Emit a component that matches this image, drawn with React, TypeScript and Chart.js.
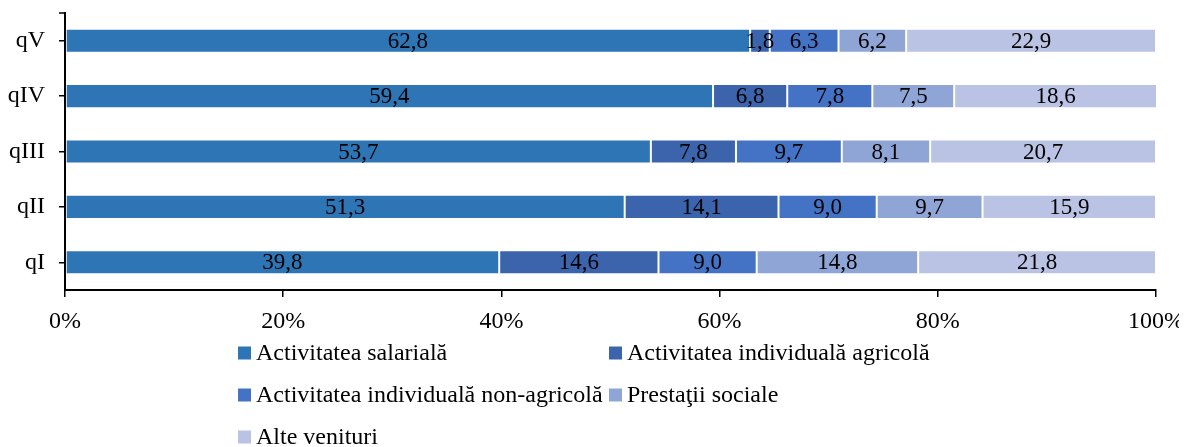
import React, { useEffect, useRef } from "react";
import { Chart, registerables } from "chart.js";

Chart.register(...registerables);

const categories = ["qV", "qIV", "qIII", "qII", "qI"];
const seriesNames = [
  "Activitatea salarială",
  "Activitatea individuală agricolă",
  "Activitatea individuală non-agricolă",
  "Prestaţii sociale",
  "Alte venituri",
];
const salariala = [62.8, 59.4, 53.7, 51.3, 39.8];
const agricola = [1.8, 6.8, 7.8, 14.1, 14.6];
const nonAgricola = [6.3, 7.8, 9.7, 9.0, 9.0];
const prestatii = [6.2, 7.5, 8.1, 9.7, 14.8];
const alte = [22.9, 18.6, 20.7, 15.9, 21.8];
const xTicks = [0, 20, 40, 60, 80, 100];
const colors = ["#2E75B6", "#3B64AD", "#4472C4", "#8FA5D5", "#BAC3E3"];

const FONT = '"Liberation Serif", "Times New Roman", serif';

const labelsPlugin = {
  id: "segLabels",
  afterDatasetsDraw(chart: any) {
    const ctx = chart.ctx;
    ctx.save();
    ctx.font = `23px ${FONT}`;
    ctx.fillStyle = "#000";
    ctx.textAlign = "center";
    ctx.textBaseline = "middle";
    chart.data.datasets.forEach((ds: any, di: number) => {
      const meta = chart.getDatasetMeta(di);
      meta.data.forEach((el: any, i: number) => {
        const v = ds.data[i];
        const cx = (el.x + el.base) / 2;
        ctx.fillText(v.toFixed(1).replace(".", ","), cx, el.y + 1);
      });
    });
    ctx.restore();
  },
  afterDraw(chart: any) {
    const ctx = chart.ctx;
    const area = chart.chartArea;
    ctx.save();
    // top tick of y axis
    ctx.strokeStyle = "#000";
    ctx.lineWidth = 1.5;
    ctx.beginPath();
    ctx.moveTo(area.left - 6, area.top);
    ctx.lineTo(area.left, area.top);
    ctx.stroke();
    // custom legend (two columns)
    ctx.font = `24px ${FONT}`;
    ctx.textBaseline = "middle";
    ctx.textAlign = "left";
    const colX = [area.left + 173, area.left + 544];
    const rowY0 = area.bottom + 63;
    const rowGap = 42;
    chart.data.datasets.forEach((ds: any, i: number) => {
      const col = i % 2;
      const row = Math.floor(i / 2);
      const x = colX[col];
      const y = rowY0 + row * rowGap;
      ctx.fillStyle = ds.backgroundColor;
      ctx.fillRect(x, y - 6.5, 13, 13);
      ctx.fillStyle = "#000";
      ctx.fillText(ds.label, x + 18, y + 1);
    });
    ctx.restore();
  },
};

export default function App() {
  const ref = useRef<HTMLCanvasElement>(null);
  useEffect(() => {
    document.documentElement.style.overflow = "hidden";
    if (!ref.current) return;
    const values = [salariala, agricola, nonAgricola, prestatii, alte];
    const chart = new Chart(ref.current, {
      type: "bar",
      data: {
        labels: categories,
        datasets: values.map((d, i) => ({
          label: seriesNames[i],
          data: d,
          backgroundColor: colors[i],
          borderColor: "rgba(255,255,255,0.45)",
          borderWidth: 1,
          borderSkipped: false,
          barPercentage: 0.87,
          categoryPercentage: 0.5,
        })),
      },
      options: {
        indexAxis: "y",
        responsive: false,
        animation: false,
        maintainAspectRatio: false,
        layout: { padding: { top: 5, right: 31, left: 0, bottom: 107 } },
        plugins: { legend: { display: false }, tooltip: { enabled: false } },
        scales: {
          x: {
            stacked: true,
            min: 0,
            max: 100,
            afterBuildTicks: (s: any) => {
              s.ticks = xTicks.map((v) => ({ value: v }));
            },
            afterFit: (s: any) => {
              s.height = 50;
              s.paddingLeft = 0;
              s.paddingRight = 0;
            },
            ticks: {
              callback: (v: any) => `${v}%`,
              font: { family: FONT, size: 24 },
              color: "#000",
              padding: 10,
            },
            grid: {
              display: true,
              drawOnChartArea: false,
              drawTicks: true,
              tickLength: 7,
              color: "#000",
              lineWidth: 1.5,
            },
            border: { display: true, color: "#000", width: 2 },
          },
          y: {
            stacked: true,
            afterFit: (s: any) => {
              s.width = 57;
              s.paddingTop = 0;
              s.paddingBottom = 0;
            },
            ticks: {
              font: { family: FONT, size: 24 },
              color: "#000",
              padding: 14,
            },
            grid: {
              display: true,
              offset: false,
              drawOnChartArea: false,
              drawTicks: true,
              tickLength: 6,
              color: "#000",
              lineWidth: 1.5,
            },
            border: { display: true, color: "#000", width: 2 },
          },
        },
      },
      plugins: [labelsPlugin],
    });
    return () => chart.destroy();
  }, []);
  return (
    <div style={{ width: 1179, height: 439 }}>
      <canvas ref={ref} width={1179} height={439} style={{ display: "block" }} />
    </div>
  );
}
